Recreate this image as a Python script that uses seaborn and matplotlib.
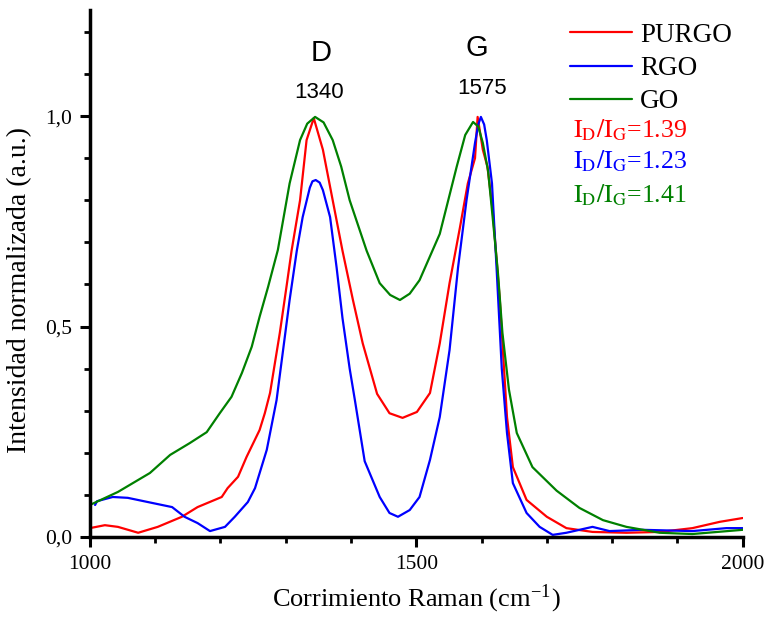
import numpy as np
import pandas as pd
import matplotlib
matplotlib.use("Agg")
import matplotlib.pyplot as plt
import seaborn as sns
from matplotlib.ticker import MultipleLocator, FixedLocator, FixedFormatter

# ---- data ----
go_x = [1000, 1043, 1092, 1123, 1153, 1179, 1199, 1217, 1233, 1248, 1260, 1273, 1288, 1306, 1322, 1333,
        1345, 1358, 1372, 1385, 1398, 1424, 1444, 1460, 1475, 1490, 1505, 1536, 1562, 1575, 1587,
        1595, 1602, 1610, 1617, 1625, 1632, 1642, 1654, 1678, 1715, 1750, 1786, 1822, 1873, 1923, 2000]
go_y = [0.076, 0.107, 0.152, 0.195, 0.223, 0.249, 0.294, 0.333, 0.39, 0.452, 0.523, 0.594, 0.682, 0.84, 0.943, 0.982,
        0.998, 0.985, 0.943, 0.88, 0.80, 0.68, 0.603, 0.575, 0.563, 0.578, 0.61, 0.72, 0.88, 0.955, 0.986,
        0.975, 0.936, 0.87, 0.76, 0.63, 0.485, 0.35, 0.247, 0.166, 0.11, 0.069, 0.04, 0.024, 0.010, 0.007, 0.017]

purgo_x = [1000, 1023, 1043, 1074, 1104, 1141, 1165, 1202, 1211, 1227, 1240, 1260, 1268, 1276, 1291, 1302,
           1309, 1322, 1332, 1343, 1357, 1372, 1387, 1403, 1418, 1440, 1459, 1479, 1501, 1521, 1536,
           1551, 1567, 1579, 1590, 1594, 1602, 1609, 1617, 1628, 1639, 1648, 1669, 1700, 1730,
           1770, 1822, 1873, 1923, 1965, 2000]
purgo_y = [0.021, 0.028, 0.024, 0.010, 0.024, 0.048, 0.071, 0.095, 0.116, 0.143, 0.19, 0.254, 0.294, 0.342, 0.485, 0.603,
           0.68, 0.80, 0.943, 0.995, 0.92, 0.80, 0.68, 0.563, 0.46, 0.34, 0.294, 0.283, 0.297, 0.342, 0.46,
           0.603, 0.736, 0.84, 0.90, 0.998, 0.92, 0.88, 0.777, 0.563, 0.285, 0.166, 0.088, 0.048, 0.021,
           0.012, 0.010, 0.012, 0.021, 0.036, 0.045]

rgo_x = [1008, 1011, 1035, 1058, 1095, 1126, 1145, 1165, 1184, 1207, 1222, 1242, 1253, 1271,
         1286, 1296, 1306, 1317, 1326, 1337, 1341, 1346, 1352, 1357, 1368, 1378, 1387, 1398, 1406, 1421, 1444,
         1459, 1472, 1490, 1505, 1521, 1536, 1551, 1564, 1577, 1590, 1595, 1599, 1604, 1608, 1616, 1623,
         1631, 1639, 1648, 1669, 1689, 1709, 1730, 1750, 1770, 1796, 1847, 1923, 1975, 2000]
rgo_y = [0.076, 0.085, 0.095, 0.093, 0.081, 0.071, 0.048, 0.033, 0.014, 0.024, 0.048, 0.083, 0.116, 0.207,
         0.325, 0.444, 0.563, 0.68, 0.76, 0.83, 0.845, 0.848, 0.842, 0.824, 0.76, 0.64, 0.52, 0.40, 0.325, 0.18, 0.095,
         0.057, 0.048, 0.064, 0.095, 0.183, 0.285, 0.444, 0.64, 0.80, 0.936, 0.98, 0.998, 0.98, 0.943, 0.84, 0.64,
         0.40, 0.247, 0.128, 0.057, 0.024, 0.005, 0.010, 0.017, 0.024, 0.014, 0.017, 0.014, 0.021, 0.021]

series_names = ["PURGO", "RGO", "GO"]
series_colors = ["#ff0000", "#0000ff", "#008000"]
ratio_texts = ["1.39", "1.23", "1.41"]
x_ticks = [1000, 1500, 2000]
x_tick_labels = ["1000", "1500", "2000"]
y_ticks = [0.0, 0.5, 1.0]
y_tick_labels = ["0,0", "0,5", "1,0"]
peak_names = ["D", "G"]
peak_positions = ["1340", "1575"]

df = pd.concat([
    pd.DataFrame({"x": purgo_x, "y": purgo_y, "s": "PURGO"}),
    pd.DataFrame({"x": rgo_x, "y": rgo_y, "s": "RGO"}),
    pd.DataFrame({"x": go_x, "y": go_y, "s": "GO"}),
], ignore_index=True)

sns.set_style("ticks")
plt.rcParams["font.family"] = ["Liberation Serif", "DejaVu Serif"]
plt.rcParams["mathtext.fontset"] = "stix"
for k in ["axes.edgecolor", "xtick.color", "ytick.color", "text.color", "axes.labelcolor"]:
    plt.rcParams[k] = "black"

fig = plt.figure(figsize=(7.68, 6.17), dpi=100)
ax = fig.add_axes([0.117, 0.1297, 0.85, 0.8541])

sns.lineplot(data=df, x="x", y="y", hue="s", hue_order=series_names,
             palette=dict(zip(series_names, series_colors)), sort=False,
             linewidth=1.6, ax=ax, legend=True)

ax.set_xlim(1000, 2000)
ax.set_ylim(0, 1.252)
ax.spines["top"].set_visible(False)
ax.spines["right"].set_visible(False)
for sp in ["left", "bottom"]:
    ax.spines[sp].set_linewidth(2.5)
    ax.spines[sp].set_color("black")

ax.xaxis.set_major_locator(FixedLocator(x_ticks))
ax.xaxis.set_major_formatter(FixedFormatter(x_tick_labels))
ax.xaxis.set_minor_locator(MultipleLocator(100))
ax.yaxis.set_major_locator(FixedLocator(y_ticks))
ax.yaxis.set_major_formatter(FixedFormatter(y_tick_labels))
ax.yaxis.set_minor_locator(MultipleLocator(0.1))
ax.tick_params(which="major", direction="out", length=7, width=2.2, labelsize=15.5, pad=6,
               color="black", labelcolor="black")
ax.tick_params(which="minor", direction="out", length=4.5, width=2.0, color="black")

ax.set_xlabel("Corrimiento Raman (cm$^{\\mathregular{-1}}$)", fontsize=19, labelpad=6)
ax.set_ylabel("Intensidad normalizada (a.u.)", fontsize=20, labelpad=9)
ax.yaxis.label.set_y(0.469)

leg = ax.legend(loc="upper left", bbox_to_anchor=(0.735, 0.976), frameon=False, fontsize=19.5,
                handlelength=2.3, handletextpad=0.3, labelspacing=0.31,
                borderaxespad=0.0, borderpad=0.0)
for h in leg.get_lines():
    h.set_linewidth(1.6)

ratio_y = [0.950, 0.876, 0.796]
for txt, c, yy in zip(ratio_texts, series_colors, ratio_y):
    ax.text(1740, yy, r"$\mathrm{I_D/I_G}$=" + txt, color=c, fontsize=18.5,
            ha="left", va="baseline")

sans = ["Liberation Sans", "DejaVu Sans"]
ax.text(1355, 1.150, peak_names[0], family=sans, fontsize=21, ha="center", va="center")
ax.text(1351, 1.057, peak_positions[0], family=sans, fontsize=16, ha="center", va="center")
ax.text(1593, 1.161, peak_names[1], family=sans, fontsize=21, ha="center", va="center")
ax.text(1601, 1.066, peak_positions[1], family=sans, fontsize=16, ha="center", va="center")

fig.savefig("out.png", dpi=100)
